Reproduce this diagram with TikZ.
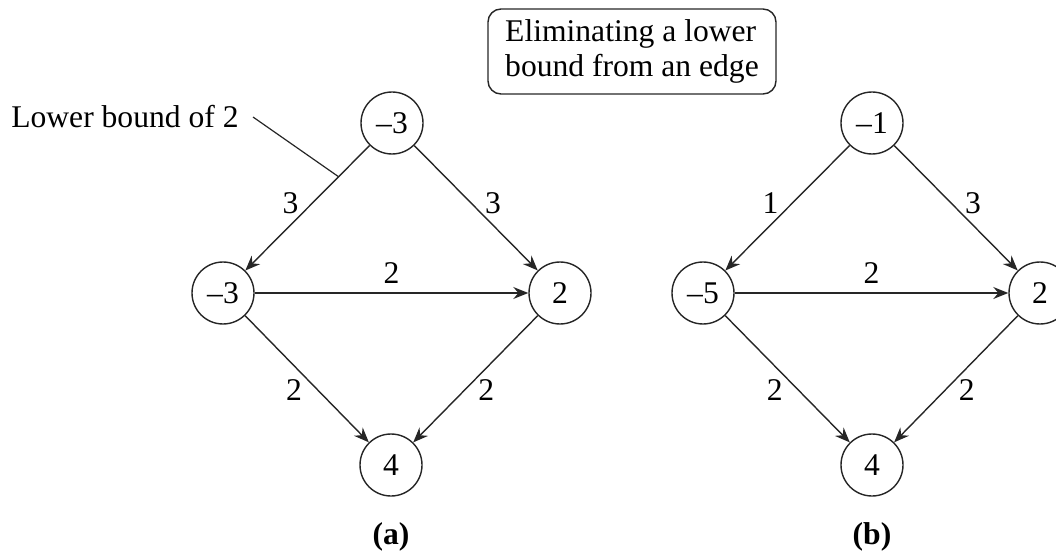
\documentclass[tikz,border=0pt]{standalone}
\usepackage{fontspec}
\setmainfont{Liberation Serif}
\usetikzlibrary{arrows.meta}
\begin{document}
\begin{tikzpicture}[x=0.5pt,y=-0.5pt,
  font=\fontsize{15.8}{17.5}\selectfont,
  vertex/.style={circle, draw=black!85, line width=0.7pt, minimum size=31pt, inner sep=0pt},
  flow/.style={draw=black!85, -{Stealth[length=7.5pt,width=6pt,inset=2.5pt]}, line width=0.7pt},
  lbl/.style={inner sep=0pt},
  captext/.style={font=\fontsize{15.8}{17.5}\selectfont\bfseries}]
\clip (0,0) rectangle (1056,551);
% graph (a)
\node[vertex] (at) at (392,123) {–3};
\node[vertex] (al) at (223,293) {–3};
\node[vertex] (ar) at (560,293) {2};
\node[vertex] (ab) at (391,465) {4};
\draw[flow] (at) -- node[lbl,pos=0.46,xshift=-11pt]{3} (al);
\draw[flow] (at) -- node[lbl,pos=0.46,xshift=11pt]{3} (ar);
\draw[flow] (al) -- node[lbl,midway,yshift=10pt]{2} (ar);
\draw[flow] (al) -- node[lbl,pos=0.59,xshift=-12pt]{2} (ab);
\draw[flow] (ar) -- node[lbl,pos=0.59,xshift=11pt]{2} (ab);
% graph (b)
\node[vertex] (bt) at (872,123) {–1};
\node[vertex] (bl) at (703,293) {–5};
\node[vertex] (br) at (1040,293) {2};
\node[vertex] (bb) at (872,465) {4};
\draw[flow] (bt) -- node[lbl,pos=0.46,xshift=-11pt]{1} (bl);
\draw[flow] (bt) -- node[lbl,pos=0.46,xshift=11pt]{3} (br);
\draw[flow] (bl) -- node[lbl,midway,yshift=10pt]{2} (br);
\draw[flow] (bl) -- node[lbl,pos=0.59,xshift=-12pt]{2} (bb);
\draw[flow] (br) -- node[lbl,pos=0.59,xshift=11pt]{2} (bb);
% annotation
\path (at) -- coordinate[pos=0.25] (lbpt) (al);
\node[anchor=east, inner xsep=7pt, inner ysep=0pt] (lb) at (253,117) {Lower bound of 2};
\draw[draw=black!85, line width=0.6pt] (lb.east) -- (lbpt);
\node[draw=black!85, rounded corners=6.5pt, minimum width=144pt, minimum height=42.5pt,
      align=left, line width=0.7pt] (box) at (632,51.5) {Eliminating a lower\\bound from an edge};
% captions
\node[captext] (capa) at (391,537) {(a)};
\node[captext] (capb) at (872,537) {(b)};
\end{tikzpicture}
\end{document}
